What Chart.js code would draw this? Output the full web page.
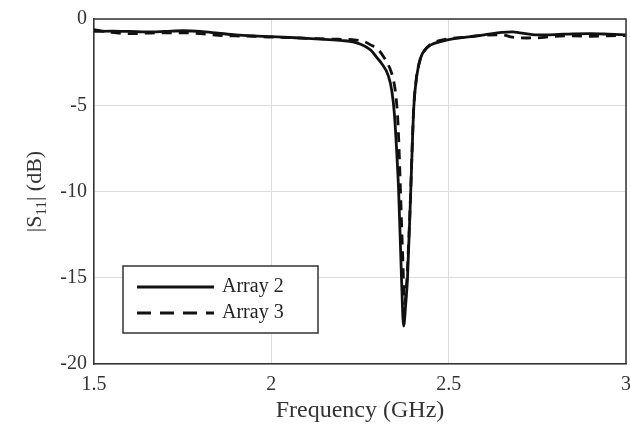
<!DOCTYPE html>
<html>
<head>
<meta charset="utf-8">
<script src="https://cdn.jsdelivr.net/npm/chart.js@4.4.1/dist/chart.umd.min.js"></script>
<style>
  html, body { margin: 0; padding: 0; background: #fff; }
  #wrap { width: 630px; height: 432px; position: relative; }
</style>
</head>
<body>
<div id="wrap"><canvas id="s11"></canvas></div>
<script>
// frequency (GHz) and |S11| (dB)
const freqA2 = [1.50, 1.55, 1.60, 1.65, 1.70, 1.75, 1.80, 1.85, 1.90, 1.95, 2.00, 2.05, 2.10, 2.15, 2.20, 2.23,
    2.25, 2.28, 2.30, 2.31, 2.33, 2.34, 2.347, 2.353, 2.359, 2.367, 2.373, 2.379, 2.384, 2.393, 2.398, 2.402,
    2.41, 2.422, 2.435, 2.45, 2.48, 2.50, 2.55, 2.60, 2.65, 2.68, 2.70, 2.75, 2.80, 2.85, 2.90, 2.95, 3.00];
const s11A2 = [-0.72, -0.70, -0.72, -0.75, -0.72, -0.68, -0.72, -0.82, -0.92, -0.98, -1.02, -1.07, -1.12, -1.18, -1.25, -1.32,
    -1.45, -1.8, -2.3, -2.55, -3.3, -4.2, -5.5, -7.5, -10, -15, -17.8, -16.5, -15, -10, -7.0, -5.0,
    -3.3, -2.2, -1.75, -1.5, -1.3, -1.2, -1.05, -0.92, -0.78, -0.75, -0.8, -0.92, -0.9, -0.86, -0.85, -0.88, -0.92];

const freqA3 = [1.50, 1.55, 1.60, 1.65, 1.70, 1.75, 1.80, 1.85, 1.90, 1.95, 2.00, 2.05, 2.10, 2.15, 2.20, 2.23,
    2.26, 2.28, 2.30, 2.32, 2.335, 2.345, 2.352, 2.357, 2.361, 2.365, 2.37, 2.376, 2.381, 2.386, 2.392, 2.397,
    2.401, 2.408, 2.42, 2.435, 2.45, 2.50, 2.55, 2.60, 2.65, 2.68, 2.72, 2.76, 2.80, 2.85, 2.90, 2.95, 3.00];
const s11A3 = [-0.62, -0.78, -0.85, -0.82, -0.80, -0.80, -0.85, -0.95, -0.98, -1.0, -1.05, -1.08, -1.12, -1.15, -1.18, -1.2,
    -1.3, -1.5, -1.75, -2.3, -2.9, -3.6, -4.6, -6.0, -8.0, -10.5, -13.5, -16.5, -15.5, -13.5, -10.5, -7.5,
    -5.3, -3.6, -2.3, -1.75, -1.45, -1.15, -1.05, -0.95, -0.92, -1.05, -1.1, -1.08, -1.0, -0.98, -1.0, -0.98, -0.95];

const seriesNames = ['Array 2', 'Array 3'];
const xTicks = [1.5, 2, 2.5, 3];
const yTicks = [0, -5, -10, -15, -20];

const FONT = '"Liberation Serif", "Times New Roman", serif';
const TXT = '#333';

function toPoints(xs, ys) {
    return xs.map((x, i) => ({ x: x, y: ys[i] }));
}

// legend box drawn inside the plot, lower left
const boxLegend = {
    id: 'boxLegend',
    afterDraw(chart) {
        const ctx = chart.ctx;
        const a = chart.chartArea;
        const x0 = a.left + 29, y0 = a.top + 247, w = 195, h = 67;
        ctx.save();
        ctx.fillStyle = '#fff';
        ctx.fillRect(x0, y0, w, h);
        ctx.strokeStyle = '#333';
        ctx.lineWidth = 1.5;
        ctx.strokeRect(x0, y0, w, h);
        const dashes = [[], [14, 9]];
        for (let i = 0; i < seriesNames.length; i++) {
            const ly = y0 + 21 + i * 26;
            ctx.beginPath();
            ctx.setLineDash(dashes[i]);
            ctx.lineWidth = 3;
            ctx.strokeStyle = '#111';
            ctx.moveTo(x0 + 14, ly);
            ctx.lineTo(x0 + 91, ly);
            ctx.stroke();
            ctx.setLineDash([]);
            ctx.fillStyle = '#222';
            ctx.font = '20px ' + FONT;
            ctx.textBaseline = 'middle';
            ctx.textAlign = 'left';
            ctx.fillText(seriesNames[i], x0 + 99, ly);
        }
        ctx.restore();
    }
};

// y axis title with subscript: |S11| (dB)
const yTitle = {
    id: 'yTitle',
    afterDraw(chart) {
        const ctx = chart.ctx;
        const a = chart.chartArea;
        ctx.save();
        ctx.translate(35, (a.top + a.bottom) / 2);
        ctx.rotate(-Math.PI / 2);
        ctx.fillStyle = TXT;
        ctx.textBaseline = 'middle';
        ctx.textAlign = 'left';
        const big = '22px ' + FONT, small = '15px ' + FONT;
        const p1 = '|S', p3 = '| (dB)';
        ctx.font = big; const w1 = ctx.measureText(p1).width;
        ctx.font = small; const w2 = ctx.measureText('11').width;
        ctx.font = big; const w3 = ctx.measureText(p3).width;
        let x = -(w1 + w2 + w3) / 2;
        ctx.font = big; ctx.fillText(p1, x, 0); x += w1;
        ctx.font = small; ctx.fillText('11', x, 7); x += w2;
        ctx.font = big; ctx.fillText(p3, x, 0);
        ctx.restore();
    }
};

const ctx = document.getElementById('s11').getContext('2d');
const config = {
    type: 'line',
    data: {
        datasets: [{
            label: seriesNames[0],
            data: toPoints(freqA2, s11A2),
            borderColor: '#111',
            borderWidth: 2.8,
            pointRadius: 0,
            cubicInterpolationMode: 'monotone'
        },
        {
            label: seriesNames[1],
            data: toPoints(freqA3, s11A3),
            borderColor: '#111',
            borderWidth: 2.8,
            borderDash: [10, 7],
            pointRadius: 0,
            cubicInterpolationMode: 'monotone'
        }]
    },
    options: {
        responsive: true,
        maintainAspectRatio: false,
        animation: false,
        layout: { padding: { top: 18, right: 4, left: 0, bottom: 7 } },
        plugins: {
            legend: { display: false },
            tooltip: { enabled: false }
        },
        scales: {
            x: {
                type: 'linear',
                min: 1.5,
                max: 3,
                afterBuildTicks: s => { s.ticks = xTicks.map(v => ({ value: v })); },
                afterFit: s => { s.height = 61; s.paddingRight = 0; s.paddingLeft = 0; },
                border: { display: true, color: '#333', width: 1.5 },
                grid: { color: '#dcdcdc', lineWidth: 1, drawTicks: false },
                ticks: {
                    padding: 9,
                    color: TXT,
                    font: { family: FONT, size: 20 },
                    callback: v => String(v)
                },
                title: {
                    display: true,
                    text: 'Frequency (GHz)',
                    color: TXT,
                    font: { family: FONT, size: 24 },
                    padding: { top: 0, bottom: 0 }
                }
            },
            y: {
                min: -20,
                max: 0,
                afterBuildTicks: s => { s.ticks = yTicks.map(v => ({ value: v })); },
                afterFit: s => { s.width = 94; },
                border: { display: true, color: '#333', width: 1.5 },
                grid: { color: '#dcdcdc', lineWidth: 1, drawTicks: false },
                ticks: {
                    padding: 7,
                    color: TXT,
                    font: { family: FONT, size: 20 }
                }
            }
        }
    },
    plugins: [boxLegend, yTitle, {
        // top and right frame lines
        id: 'frame',
        afterDraw(chart) {
            const c = chart.ctx, a = chart.chartArea;
            c.save();
            c.strokeStyle = '#333';
            c.lineWidth = 1.5;
            c.beginPath();
            c.moveTo(a.left, a.top);
            c.lineTo(a.right, a.top);
            c.lineTo(a.right, a.bottom);
            c.stroke();
            c.restore();
        }
    }]
};
const chart = new Chart(ctx, config);
</script>
</body>
</html>
